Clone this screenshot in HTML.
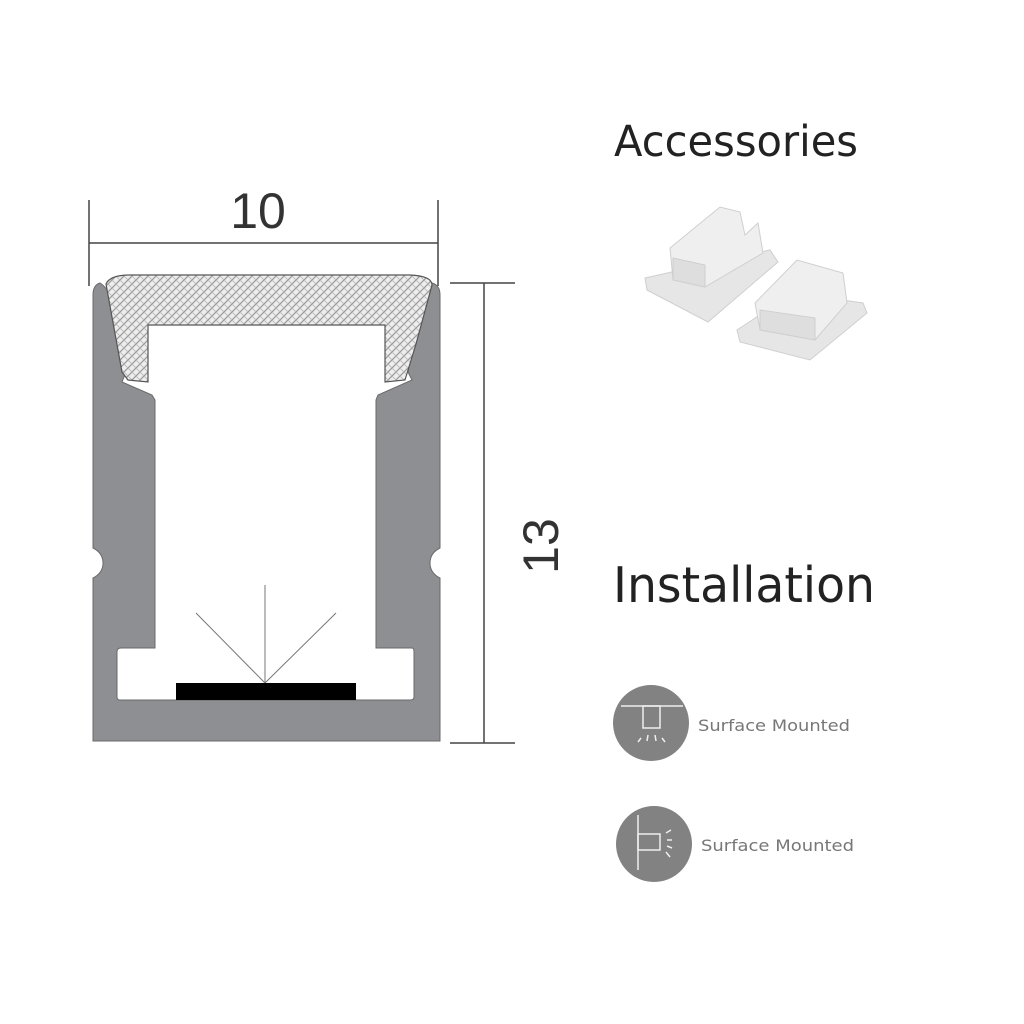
<!DOCTYPE html>
<html><head><meta charset="utf-8"><style>
html,body{margin:0;padding:0;background:#fff;}
svg{display:block;}
</style></head><body>
<svg width="1024" height="1024" viewBox="0 0 1024 1024" xmlns="http://www.w3.org/2000/svg">
<defs>
<pattern id="hatch" width="8" height="8" patternUnits="userSpaceOnUse">
<rect width="8" height="8" fill="#eeeeee"/>
<path d="M0,8 L8,0 M-2,2 L2,-2 M6,10 L10,6" stroke="#9a9a9a" stroke-width="1.3"/>
<path d="M0,0 L8,8" stroke="#b5b5b5" stroke-width="0.8"/>
</pattern>
</defs>
<g stroke="#444" stroke-width="1.5" fill="none">
<line x1="89" y1="200" x2="89" y2="286"/>
<line x1="438" y1="200" x2="438" y2="286"/>
<line x1="89" y1="243" x2="438" y2="243"/>
<line x1="450" y1="283" x2="515" y2="283"/>
<line x1="450" y1="743" x2="515" y2="743"/>
<line x1="484" y1="283" x2="484" y2="743"/>
</g>
<text x="258" y="228" font-family="Liberation Sans, sans-serif" font-size="50" fill="#333" text-anchor="middle">10</text>
<text transform="translate(558,546) rotate(-90)" font-family="Liberation Sans, sans-serif" font-size="50" fill="#333" text-anchor="middle">13</text>
<path fill="#8e8f93" stroke="#6a6a6a" stroke-width="1" fill-rule="evenodd" d="
M100,283 Q93,285 93,295 L93,548 Q103,553 103,563 Q103,573 93,578 L93,741 L440,741 L440,578 Q430,573 430,563 Q430,553 440,548 L440,295 Q440,285 432,283 Q424,288 420,300 L408,372 L412,380 L378,395 L376,400 L376,648 L412,648 Q414,648 414,652 L414,697 Q414,700 410,700 L120,700 Q117,700 117,697 L117,652 Q117,648 121,648 L155,648 L155,400 L152,395 L122,382 L126,372 L112,300 Q108,288 100,283 Z"/>
<path fill="url(#hatch)" stroke="#555" stroke-width="1.2" d="M106,284 Q110,275 130,275 L410,275 Q432,276 432,285 L416,344 L405,380 L385,382 L385,325 L148,325 L148,382 L128,380 L122,372 Z"/>
<g stroke="#777" stroke-width="1">
<line x1="265" y1="683" x2="265" y2="585"/>
<line x1="265" y1="683" x2="196" y2="613"/>
<line x1="265" y1="683" x2="336" y2="613"/>
</g>
<rect x="176" y="683" width="180" height="17" fill="#000"/>
<text x="614" y="156" font-family="DejaVu Sans, sans-serif" font-size="43" fill="#222" textLength="244" lengthAdjust="spacingAndGlyphs">Accessories</text>
<text x="613" y="602" font-family="DejaVu Sans, sans-serif" font-size="49" fill="#222" textLength="262" lengthAdjust="spacingAndGlyphs">Installation</text>
<g stroke="#cfcfcf" stroke-width="1">
<polygon points="645,278 770,250 778,262 708,322 647,290" fill="#e6e6e6"/>
<polygon points="670,248 720,207 740,212 745,235 758,223 763,253 705,287 673,280" fill="#efefef"/>
<polygon points="673,258 705,265 705,287 673,280" fill="#dedede"/>
<polygon points="737,330 793,293 863,303 867,313 810,360 740,342" fill="#e6e6e6"/>
<polygon points="755,303 797,260 843,273 847,303 815,340 760,330" fill="#efefef"/>
<polygon points="760,310 815,318 815,340 760,330" fill="#dedede"/>
</g>
<circle cx="651" cy="723" r="38" fill="#828282"/>
<g stroke="#eee" stroke-width="1.5" fill="none">
<line x1="621" y1="706" x2="683" y2="706"/>
<rect x="643" y="706" width="17" height="22"/>
<line x1="641" y1="738" x2="638" y2="742"/><line x1="648" y1="735" x2="647" y2="741"/><line x1="655" y1="735" x2="656" y2="741"/><line x1="662" y1="738" x2="665" y2="742"/>
</g>
<text x="698" y="731" font-family="DejaVu Sans, sans-serif" font-size="16" fill="#777" textLength="152" lengthAdjust="spacingAndGlyphs">Surface Mounted</text>
<circle cx="654" cy="844" r="38" fill="#828282"/>
<g stroke="#eee" stroke-width="1.5" fill="none">
<line x1="638" y1="815" x2="638" y2="870"/>
<rect x="638" y="834" width="22" height="16"/>
<line x1="666" y1="833" x2="671" y2="830"/><line x1="667" y1="840" x2="672" y2="840"/><line x1="667" y1="846" x2="672" y2="848"/><line x1="666" y1="852" x2="670" y2="857"/>
</g>
<text x="701" y="851" font-family="DejaVu Sans, sans-serif" font-size="16" fill="#777" textLength="153" lengthAdjust="spacingAndGlyphs">Surface Mounted</text>
</svg>
</body></html>
